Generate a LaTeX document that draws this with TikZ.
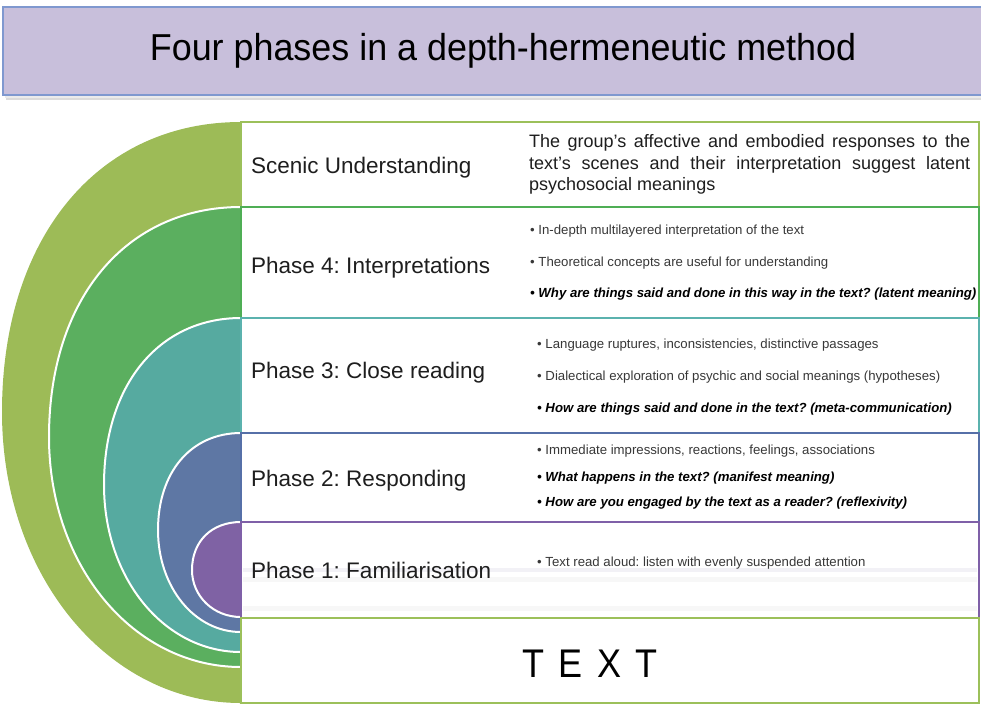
\documentclass[tikz,border=0pt]{standalone}
\usepackage{fontspec}
\setmainfont{Liberation Sans}
\frenchspacing

% layer colours
\definecolor{cOlive}{HTML}{9DBB57}
\definecolor{cGreen}{HTML}{5BAF5F}
\definecolor{cTeal}{HTML}{56AAA0}
\definecolor{cBlue}{HTML}{5E77A4}
\definecolor{cPurple}{HTML}{7F62A4}
% frame colours of the rows
\definecolor{eOlive}{HTML}{9CC05A}
\definecolor{eGreen}{HTML}{4FAE55}
\definecolor{eTeal}{HTML}{5BB2AE}
\definecolor{eBlue}{HTML}{5670A8}
\definecolor{ePurple}{HTML}{7F60A8}
% title banner
\definecolor{titlefill}{HTML}{C8BFDB}
\definecolor{titleedge}{HTML}{7F98CF}
\definecolor{labeltext}{HTML}{1E1E1E}
\definecolor{itemtext}{HTML}{383838}
\definecolor{bandgray}{HTML}{F2F1F6}

\tikzset{
  layer/.style={draw=white, line width=2pt},
  rowframe/.style={line width=1.1pt},
  rowtop/.style={line width=2.6pt},
  lbl/.style={font=\fontsize{22.5}{26}\selectfont, text=labeltext, anchor=base west, inner sep=0pt},
  desc/.style={font=\fontsize{18}{21}\selectfont, text=labeltext, anchor=base west, inner sep=0pt},
  item/.style={font=\fontsize{13.2}{15}\selectfont, text=itemtext, anchor=base west, inner sep=0pt},
  keyq/.style={font=\fontsize{13.2}{15}\selectfont\bfseries\itshape, text=black, anchor=base west, inner sep=0pt},
}

% half-disc standing on the left edge of the rows:
% #1 style, #2 top y, #3 y of the leftmost point, #4 bottom y, #5 horizontal radius
\newcommand{\halfdisc}[5]{%
  \path[#1] (250,#2) -- (241,#2)
    .. controls ({241-0.6*#5},#2) and ({241-#5},{#3-0.6*(#3-#2)}) .. ({241-#5},#3)
    .. controls ({241-#5},{#3+0.56*(#4-#3)}) and ({241-0.56*#5},#4) .. (241,#4)
    -- (250,#4) -- cycle;}

\begin{document}
\begin{tikzpicture}[x=1pt,y=-1pt]
\useasboundingbox (0,0) rectangle (981,705);

% ---- title banner with its shadow
\fill[black!14] (6,11) rectangle (990,100);
\fill[black!8] (5,9) rectangle (990,98);
\filldraw[fill=titlefill, draw=titleedge, line width=1.4pt] (3,7) rectangle (992,95);
\node[font=\fontsize{37.5}{40}\selectfont, xscale=0.957, anchor=base, inner sep=0pt, text=black] (title) at (503,60) {Four phases in a depth-hermeneutic method};

% ---- nested half-discs, outermost first
\halfdisc{fill=cOlive}{122}{412}{703}{239}
\halfdisc{fill=cGreen, layer}{207}{437}{667}{192}
\halfdisc{fill=cTeal, layer}{318}{485}{652}{137}
\halfdisc{fill=cBlue, layer}{433}{530}{632}{83}
\halfdisc{fill=cPurple, layer}{522}{570}{617}{49}

% ---- row boxes
\fill[white] (241,121) rectangle (981,705);
% scenic understanding
\draw[eOlive, rowframe] (241,122) rectangle (979,207);
\draw[eOlive, rowtop] (241,122) -- (979,122);
% phase 4
\draw[eGreen, rowframe] (241,207) rectangle (979,318);
\draw[eGreen, rowtop] (241,207) -- (979,207);
% phase 3
\draw[eTeal, rowframe] (241,318) rectangle (979,433);
\draw[eTeal, rowtop] (241,318) -- (979,318);
% phase 2
\draw[eBlue, rowframe] (241,433) rectangle (979,522);
\draw[eBlue, rowtop] (241,433) -- (979,433);
% phase 1, with its faint grey bands
\fill[bandgray] (243,568) rectangle (977,572);
\fill[black!3] (243,577) rectangle (977,582);
\fill[black!3] (243,606) rectangle (977,611);
\draw[ePurple, rowframe] (241,522) rectangle (979,618);
\draw[ePurple, rowtop] (241,522) -- (979,522);
% text
\draw[eOlive, rowframe] (241,618) rectangle (979,703);
\draw[eOlive, rowtop] (241,618) -- (979,618);

% ---- row labels
\node[lbl] (lscenic) at (251,173) {Scenic Understanding};
\node[lbl] (lfour)   at (251,273.5) {Phase 4: Interpretations};
\node[lbl] (lthree)  at (251,378.5) {Phase 3: Close reading};
\node[lbl] (ltwo)    at (251,486) {Phase 2: Responding};
\node[lbl] (lone)    at (251,578) {Phase 1: Familiarisation};

% ---- scenic understanding description (justified lines)
\node[desc] (sd1) at (529,147.5) {\makebox[441pt][s]{The group’s affective and embodied responses to the}};
\node[desc] (sd2) at (529,169)   {\makebox[441pt][s]{text’s scenes and their interpretation suggest latent}};
\node[desc] (sd3) at (529,190.5) {psychosocial meanings};

% ---- phase 4 items
\node[item] (p4a) at (530,234.5) {• In-depth multilayered interpretation of the text};
\node[item] (p4b) at (530,266.5) {• Theoretical concepts are useful for understanding};
\node[keyq] (p4c) at (530,297.5) {• Why are things said and done in this way in the text? (latent meaning)};

% ---- phase 3 items
\node[item] (p3a) at (537,348.5) {• Language ruptures, inconsistencies, distinctive passages};
\node[item] (p3b) at (537,380.5) {• Dialectical exploration of psychic and social meanings (hypotheses)};
\node[keyq] (p3c) at (537,412.5) {• How are things said and done in the text? (meta-communication)};

% ---- phase 2 items
\node[item] (p2a) at (537,454.5) {• Immediate impressions, reactions, feelings, associations};
\node[keyq] (p2b) at (537,481.5) {• What happens in the text? (manifest meaning)};
\node[keyq] (p2c) at (537,506.5) {• How are you engaged by the text as a reader? (reflexivity)};

% ---- phase 1 item
\node[item] (p1a) at (537,566.5) {• Text read aloud: listen with evenly suspended attention};

% ---- the text itself, widely letter-spaced
\node[font=\fontsize{40}{42}\selectfont, xscale=0.9, anchor=base, inner sep=0pt, text=black] (txt) at (590,677)
  {T\hspace{16pt}E\hspace{16pt}X\hspace{16pt}T};
\end{tikzpicture}
\end{document}
